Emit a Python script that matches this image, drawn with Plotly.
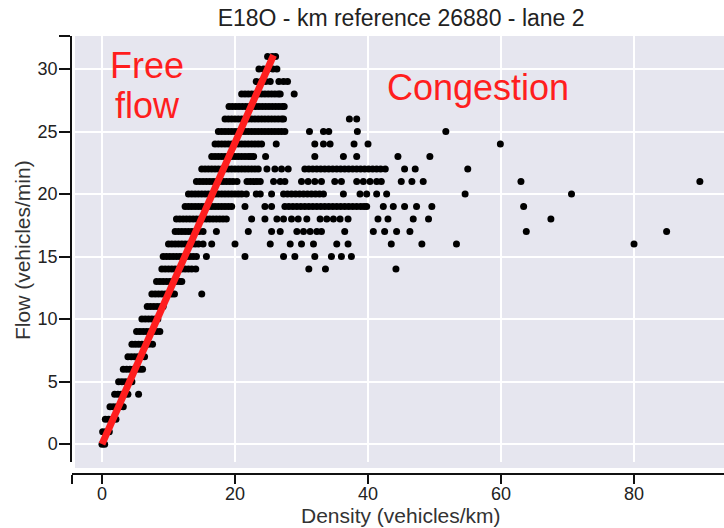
import plotly.graph_objects as go

# ---------------- data ----------------
flow_levels = [0, 1, 2, 3, 4, 5, 6, 7, 8, 9, 10, 11, 12, 13, 14, 15,
               16, 17, 18, 19, 20, 21, 22, 23, 24, 25, 26, 27, 28, 29, 30, 31]

d00 = [0.0, 0.4]
d01 = [0.1, 0.6, 1.1]
d02 = [0.5, 1.0, 1.5, 2.1]
d03 = [1.2, 1.7, 2.2, 2.7, 3.2]
d04 = [1.9, 2.4, 2.9, 3.4, 3.9, 5.5]
d05 = [2.5, 3.0, 3.5, 4.0, 4.5]
d06 = [3.2, 3.7, 4.2, 4.7, 5.2, 5.7, 6.1]
d07 = [3.9, 4.4, 4.9, 5.4, 5.9, 6.4]
d08 = [4.5, 5.0, 5.5, 6.0, 6.5, 7.0, 7.6]
d09 = [5.2, 5.7, 6.2, 6.7, 7.2, 7.7, 8.2, 8.7]
d10 = [6.0, 6.5, 7.0, 7.5, 8.0, 8.4]
d11 = [6.8, 7.3, 7.8, 8.3, 8.8, 9.2]
d12 = [7.5, 8.0, 8.5, 9.0, 9.5, 10.0, 10.5, 10.9, 15.0]
d13 = [8.2, 8.7, 9.2, 9.7, 10.2, 10.7, 11.2, 11.7, 12.0]
d14 = [9.0, 9.5, 10.0, 10.5, 11.0, 11.5, 12.0, 12.5, 13.0, 13.5, 14.1,
       31.1, 33.6, 44.2]
d15 = [9.2, 9.7, 10.2, 10.7, 11.2, 11.7, 12.2, 12.7, 13.2, 13.7, 14.2,
       15.7, 21.5, 27.3, 29.0, 32.0, 34.5, 36.0, 37.5]
d16 = [10.0, 10.5, 11.0, 11.5, 12.0, 12.5, 13.0, 13.5, 14.0, 14.5, 15.2,
       16.5, 20.0, 25.3, 28.3, 30.0, 31.8, 35.3, 37.0, 43.5, 48.1, 53.3, 80.0]
d17 = [11.0, 11.5, 12.0, 12.5, 13.0, 13.5, 14.0, 14.6, 15.2, 17.2, 22.0,
       25.5, 26.8, 29.3, 30.3, 31.3, 32.3, 33.0, 36.5, 40.8, 42.5, 44.3,
       46.3, 63.8, 84.9]
d18 = [11.2, 11.7, 12.2, 12.7, 13.2, 13.7, 14.2, 14.7, 15.2, 15.7, 16.2,
       16.7, 17.2, 17.7, 18.2, 18.7, 22.5, 24.5, 26.3, 27.3, 28.5, 29.5,
       30.8, 32.8, 33.8, 34.8, 35.8, 37.0, 41.5, 43.0, 46.8, 49.1, 67.5]
d19 = [12.5, 13.0, 13.5, 14.0, 14.5, 15.0, 15.5, 16.0, 16.5, 17.0, 17.5,
       18.0, 18.5, 19.0, 19.5, 21.5, 24.5, 25.5, 27.5, 28.1, 28.7, 29.3,
       29.9, 30.5, 31.1, 31.7, 32.3, 32.9, 33.5, 34.1, 34.7, 35.3, 35.9,
       36.5, 37.1, 37.7, 38.3, 38.9, 39.4, 39.8, 42.3, 43.8, 45.5, 47.3,
       49.6, 63.4]
d20 = [13.0, 13.5, 14.0, 14.5, 15.0, 15.5, 16.0, 16.5, 17.0, 17.5, 18.0,
       18.5, 19.0, 19.5, 20.0, 20.5, 21.0, 21.7, 23.2, 23.8, 25.5, 27.3,
       27.9, 28.5, 29.1, 29.7, 30.3, 30.9, 31.5, 32.1, 32.7, 33.3, 36.3,
       38.8, 39.8, 41.3, 42.8, 54.6, 70.6]
d21 = [14.2, 14.7, 15.2, 15.7, 16.2, 16.7, 17.2, 17.7, 18.2, 18.7, 19.2,
       19.7, 20.3, 21.8, 22.3, 22.8, 23.3, 23.8, 25.8, 26.8, 27.5, 30.0,
       31.0, 32.0, 33.0, 35.0, 36.0, 38.3, 39.3, 40.3, 41.3, 42.0, 45.0,
       46.6, 48.3, 63.0, 89.9]
d22 = [15.0, 15.5, 16.0, 16.5, 17.0, 17.5, 18.0, 18.5, 19.0, 19.5, 20.0,
       20.5, 21.0, 21.5, 22.0, 22.5, 23.0, 23.5, 24.8, 26.0, 27.0, 28.0,
       30.5, 31.1, 31.7, 32.3, 32.9, 33.5, 34.1, 34.7, 35.3, 35.9, 36.5,
       37.1, 37.7, 38.3, 38.9, 39.5, 40.1, 40.7, 41.3, 41.9, 42.6, 45.5,
       47.1, 55.0]
d23 = [16.5, 17.0, 17.5, 18.0, 18.5, 19.0, 19.5, 20.0, 20.5, 21.0, 21.5,
       22.0, 22.4, 22.8, 24.6, 32.0, 36.3, 38.3, 44.5, 49.3]
d24 = [17.0, 17.5, 18.0, 18.5, 19.0, 19.5, 20.0, 20.5, 21.0, 21.5, 22.0,
       22.5, 23.0, 23.5, 24.0, 26.2, 32.0, 33.3, 34.3, 37.9, 40.0, 59.9]
d25 = [17.5, 18.0, 18.5, 19.0, 19.5, 20.0, 20.5, 21.0, 21.5, 22.0, 22.5,
       23.0, 23.5, 24.0, 24.5, 25.0, 25.5, 26.0, 26.5, 27.0, 27.5, 31.2,
       33.3, 34.1, 38.4, 51.7]
d26 = [18.5, 19.0, 19.5, 20.0, 20.5, 21.0, 21.5, 22.0, 22.5, 23.0, 23.5,
       24.0, 24.5, 25.0, 25.5, 26.0, 26.5, 27.0, 27.3, 37.2, 38.3]
d27 = [19.1, 19.6, 20.1, 20.6, 21.1, 21.6, 22.1, 22.6, 23.1, 23.6, 24.1,
       24.6, 25.1, 25.6, 26.1, 26.6, 27.1, 27.4]
d28 = [21.0, 21.5, 22.0, 22.5, 23.0, 23.5, 24.0, 24.5, 25.0, 25.5, 26.0,
       26.5, 26.8, 28.9]
d29 = [23.2, 23.9, 24.6, 25.3, 26.6, 27.3, 27.9]
d30 = [23.6, 24.3, 25.0, 25.7, 26.3]
d31 = [24.9, 25.6, 26.1]

density_rows = [d00, d01, d02, d03, d04, d05, d06, d07, d08, d09, d10, d11,
                d12, d13, d14, d15, d16, d17, d18, d19, d20, d21, d22, d23,
                d24, d25, d26, d27, d28, d29, d30, d31]

free_flow_density = [0.0, 25.8]
free_flow_flow = [0.0, 31.1]

x_tick_values = [0, 20, 40, 60, 80]
y_tick_values = [0, 5, 10, 15, 20, 25, 30]

# ---------------- build figure ----------------
xs, ys = [], []
for f, row in zip(flow_levels, density_rows):
    xs.extend(row)
    ys.extend([f] * len(row))

X_RANGE = [-4.51, 93.53]
Y_RANGE = [-1.44, 32.64]

FONT = "Liberation Sans, Arial, Helvetica, sans-serif"
RED = "#ff1e1e"

fig = go.Figure()
fig.add_trace(go.Scatter(
    x=xs, y=ys, mode="markers",
    marker=dict(size=7, color="black", line=dict(width=0)),
    showlegend=False, hoverinfo="skip"))
fig.add_trace(go.Scatter(
    x=free_flow_density, y=free_flow_flow, mode="lines",
    line=dict(color=RED, width=7),
    showlegend=False, hoverinfo="skip"))

fig.add_shape(type="rect", xref="paper", yref="paper",
              x0=0.0046, x1=1.0, y0=0.0137, y1=1.0,
              fillcolor="#e6e6ef", line=dict(width=0), layer="below")

fig.add_annotation(x=6.8, y=30.3, xref="x", yref="y", text="Free",
                   showarrow=False, font=dict(family=FONT, size=36, color=RED))
fig.add_annotation(x=6.8, y=27.1, xref="x", yref="y", text="flow",
                   showarrow=False, font=dict(family=FONT, size=36, color=RED))
fig.add_annotation(x=56.6, y=28.5, xref="x", yref="y", text="Congestion",
                   showarrow=False, font=dict(family=FONT, size=36, color=RED))

# axis titles as annotations placed where the reference has them
fig.add_annotation(x=(401 - 72) / 652, y=(474 - 515) / 438,
                   xref="paper", yref="paper", xanchor="center",
                   yanchor="middle", showarrow=False,
                   text="Density (vehicles/km)",
                   font=dict(family=FONT, size=21, color="#333333"))
fig.add_annotation(x=(22 - 72) / 652, y=(474 - 250) / 438,
                   xref="paper", yref="paper", xanchor="center",
                   yanchor="middle", showarrow=False, textangle=-90,
                   text="Flow (vehicles/min)",
                   font=dict(family=FONT, size=21, color="#333333"))

fig.update_layout(
    width=724, height=528,
    margin=dict(l=72, r=0, t=36, b=54),
    paper_bgcolor="white", plot_bgcolor="rgba(0,0,0,0)",
    font=dict(family=FONT, color="#222222"),
    title=dict(text="E18O - km reference 26880 - lane 2",
               x=0.554, xref="container", xanchor="center",
               y=0.966, yref="container", yanchor="middle",
               font=dict(family=FONT, size=23, color="#222222")),
    xaxis=dict(
        range=X_RANGE, anchor="free", position=0,
        tickvals=[X_RANGE[0]] + x_tick_values,
        ticktext=[""] + [str(v) for v in x_tick_values],
        ticks="outside", ticklen=9, tickwidth=1.5, tickcolor="#111111",
        ticklabelstandoff=-5,
        showline=True, linewidth=1.5, linecolor="#111111",
        showgrid=True, gridcolor="white", gridwidth=1.5, zeroline=False,
        tickfont=dict(size=18, color="#222222")),
    yaxis=dict(
        range=Y_RANGE, domain=[0.027, 1.0],
        tickvals=y_tick_values + [Y_RANGE[1]],
        ticktext=[str(v) for v in y_tick_values] + [""],
        ticks="outside", ticklen=11, tickwidth=1.5, tickcolor="#111111",
        ticklabelstandoff=-2,
        showline=True, linewidth=1.5, linecolor="#111111",
        showgrid=True, gridcolor="white", gridwidth=1.5, zeroline=False,
        tickfont=dict(size=18, color="#222222")),
)

fig.write_html("out.html")
